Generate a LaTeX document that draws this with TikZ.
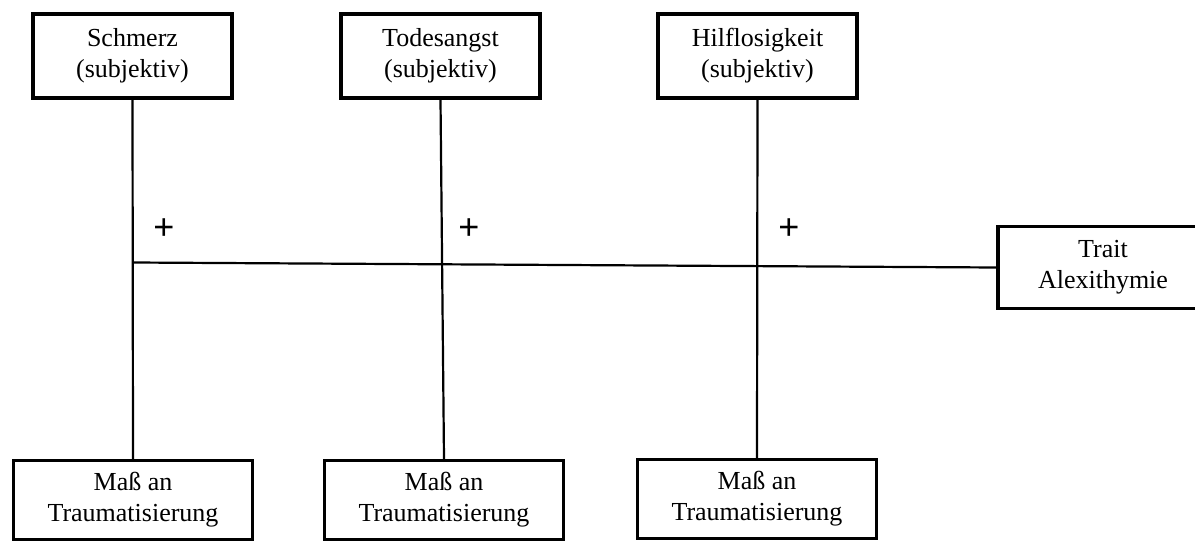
\documentclass[tikz,border=0pt]{standalone}
\usepackage{fontspec}
\setmainfont{Liberation Serif}
\newfontfamily\plusfont{Liberation Sans}
\begin{document}
\begin{tikzpicture}[x=1pt,y=-1pt,
  box/.style={draw,line width=3.4pt,rectangle,align=center,inner sep=0pt,
    font=\fontsize{26}{31}\selectfont},
  topbox/.style={box,minimum width=199pt,minimum height=84pt},
  botbox/.style={box,minimum width=239pt,minimum height=79pt},
  conn/.style={line width=2.2pt},
  plus/.style={font=\plusfont\fontsize{36}{36}\selectfont,inner sep=0pt}]
\useasboundingbox (0,0) rectangle (1195,543);
\clip (0,0) rectangle (1195,543);
\node[topbox] (s1) at (132.5,56) {Schmerz\\(subjektiv)};
\node[topbox] (s2) at (440.5,56) {Todesangst\\(subjektiv)};
\node[topbox] (s3) at (757.5,56) {Hilflosigkeit\\(subjektiv)};
\node[botbox] (m1) at (133,500) {Maß an\\Traumatisierung};
\node[botbox] (m2) at (444,500) {Maß an\\Traumatisierung};
\node[botbox] (m3) at (757,499) {Maß an\\Traumatisierung};
\node[box,minimum width=210pt,minimum height=82pt] (ta) at (1103,267.5) {Trait\\Alexithymie};
\draw[conn] (s1.south) -- (m1.north);
\draw[conn] (s2.south) -- (m2.north);
\draw[conn] (s3.south) -- (m3.north);
\coordinate (j) at (133,262.5);
\draw[conn] (j) -- (ta.west);
\node[plus] (p1) at (164,229) {+};
\node[plus] (p2) at (469,229) {+};
\node[plus] (p3) at (789,229) {+};
\end{tikzpicture}
\end{document}
